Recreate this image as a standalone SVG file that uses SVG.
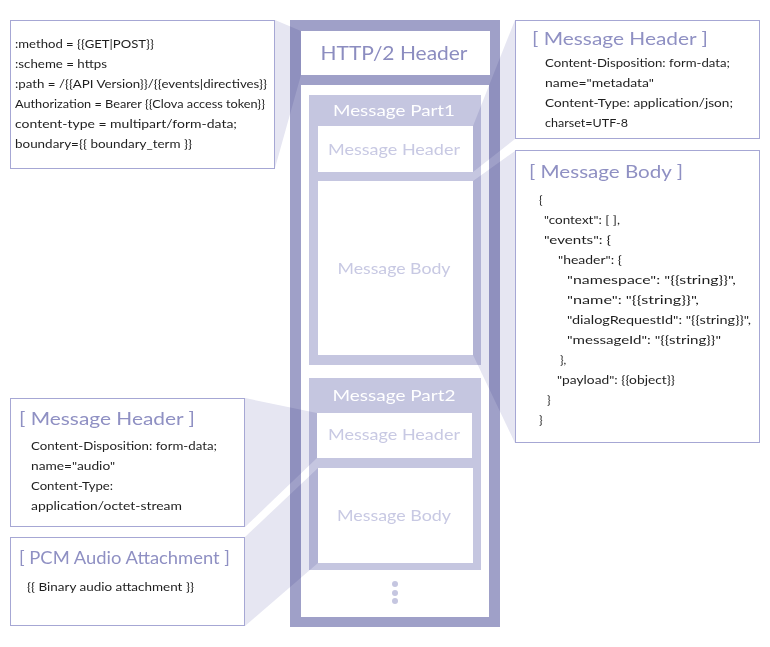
<svg xmlns="http://www.w3.org/2000/svg" width="770" height="647" viewBox="0 0 770 647">
<style>
  .bg{fill:#ffffff}
  .frame{fill:#9fa0c8}
  .part{fill:#c5c6e0}
  .wbox{fill:#ffffff}
  .card{fill:#ffffff;stroke:#a6a7d4;stroke-width:1}
  .wedge{fill:#e6e6f2;mix-blend-mode:multiply}
  text{font-family:"Lato","Liberation Sans",sans-serif}
  .t{font-size:12px;fill:#1e1e1e}
  .ttl{font-size:18px;fill:#8f90c3}
  .hh{font-size:20px;fill:#8c8dc0;text-anchor:middle}
  .pt{font-size:16px;fill:#ffffff;text-anchor:middle}
  .lb{font-size:16px;fill:#c8c9e3;text-anchor:middle}
</style>
<rect class="bg" x="0" y="0" width="770" height="647"/>

<g id="container">
  <rect class="frame" x="290" y="20" width="210" height="607"/>
  <g id="http2-header">
    <rect class="wbox" x="301" y="31" width="189" height="44"/>
    <text class="hh" x="394" y="60" textLength="147" lengthAdjust="spacingAndGlyphs">HTTP/2 Header</text>
  </g>
  <rect class="wbox" x="301" y="85" width="188" height="532"/>
  <g id="message-part1">
    <rect class="part" x="309" y="95" width="172" height="270"/>
    <text class="pt" x="394" y="116" textLength="122" lengthAdjust="spacingAndGlyphs">Message Part1</text>
    <g id="part1-header">
      <rect class="wbox" x="318" y="126" width="155" height="46"/>
      <text class="lb" x="394" y="155" textLength="132" lengthAdjust="spacingAndGlyphs">Message Header</text>
    </g>
    <g id="part1-body">
      <rect class="wbox" x="318" y="181" width="155" height="174"/>
      <text class="lb" x="394" y="274" textLength="113" lengthAdjust="spacingAndGlyphs">Message Body</text>
    </g>
  </g>
  <g id="message-part2">
    <rect class="part" x="309" y="378" width="172" height="192"/>
    <text class="pt" x="394" y="401" textLength="123" lengthAdjust="spacingAndGlyphs">Message Part2</text>
    <g id="part2-header">
      <rect class="wbox" x="317" y="413" width="155" height="45"/>
      <text class="lb" x="394" y="440" textLength="132" lengthAdjust="spacingAndGlyphs">Message Header</text>
    </g>
    <g id="part2-body">
      <rect class="wbox" x="318" y="468" width="155" height="95"/>
      <text class="lb" x="394" y="521" textLength="114" lengthAdjust="spacingAndGlyphs">Message Body</text>
    </g>
  </g>
  <g id="more-dots" fill="#c5c6e0">
    <circle cx="395" cy="584" r="3"/>
    <circle cx="395" cy="593" r="3"/>
    <circle cx="395" cy="601" r="3"/>
  </g>
</g>

<g id="http2-header-detail">
  <rect class="card" x="10.5" y="20.5" width="264" height="148"/>
  <text class="t" x="15" y="48" textLength="139" lengthAdjust="spacingAndGlyphs">:method = {{GET|POST}}</text>
  <text class="t" x="15" y="68" textLength="92" lengthAdjust="spacingAndGlyphs">:scheme = https</text>
  <text class="t" x="15" y="88" textLength="252" lengthAdjust="spacingAndGlyphs">:path = /{{API Version}}/{{events|directives}}</text>
  <text class="t" x="15" y="108" textLength="250" lengthAdjust="spacingAndGlyphs">Authorization = Bearer {{Clova access token}}</text>
  <text class="t" x="15" y="128" textLength="222" lengthAdjust="spacingAndGlyphs">content-type = multipart/form-data;</text>
  <text class="t" x="15" y="148" textLength="177" lengthAdjust="spacingAndGlyphs">boundary={{ boundary_term }}</text>
</g>

<g id="part1-header-detail">
  <rect class="card" x="515.5" y="20.5" width="244" height="118"/>
  <text class="ttl" x="532" y="45" textLength="176" lengthAdjust="spacingAndGlyphs">[ Message Header ]</text>
  <text class="t" x="545" y="67" textLength="185" lengthAdjust="spacingAndGlyphs">Content-Disposition: form-data;</text>
  <text class="t" x="545" y="87" textLength="109" lengthAdjust="spacingAndGlyphs">name="metadata"</text>
  <text class="t" x="545" y="107" textLength="188" lengthAdjust="spacingAndGlyphs">Content-Type: application/json;</text>
  <text class="t" x="545" y="127" textLength="83" lengthAdjust="spacingAndGlyphs">charset=UTF-8</text>
</g>

<g id="part1-body-detail">
  <rect class="card" x="515.5" y="150.5" width="244" height="292"/>
  <text class="ttl" x="529" y="178" textLength="154" lengthAdjust="spacingAndGlyphs">[ Message Body ]</text>
  <text class="t" x="539" y="204">{</text>
  <text class="t" x="544" y="224" textLength="76" lengthAdjust="spacingAndGlyphs">"context": [ ],</text>
  <text class="t" x="544" y="244" textLength="67" lengthAdjust="spacingAndGlyphs">"events": {</text>
  <text class="t" x="558" y="264" textLength="64" lengthAdjust="spacingAndGlyphs">"header": {</text>
  <text class="t" x="567" y="284" textLength="169" lengthAdjust="spacingAndGlyphs">"namespace": "{{string}}",</text>
  <text class="t" x="567" y="304" textLength="132" lengthAdjust="spacingAndGlyphs">"name": "{{string}}",</text>
  <text class="t" x="567" y="324" textLength="184" lengthAdjust="spacingAndGlyphs">"dialogRequestId": "{{string}}",</text>
  <text class="t" x="567" y="344" textLength="154" lengthAdjust="spacingAndGlyphs">"messageId": "{{string}}"</text>
  <text class="t" x="560" y="364">},</text>
  <text class="t" x="557" y="384" textLength="118" lengthAdjust="spacingAndGlyphs">"payload": {{object}}</text>
  <text class="t" x="547" y="404">}</text>
  <text class="t" x="539" y="424">}</text>
</g>

<g id="part2-header-detail">
  <rect class="card" x="10.5" y="398.5" width="234" height="128"/>
  <text class="ttl" x="19" y="425" textLength="176" lengthAdjust="spacingAndGlyphs">[ Message Header ]</text>
  <text class="t" x="31" y="450" textLength="186" lengthAdjust="spacingAndGlyphs">Content-Disposition: form-data;</text>
  <text class="t" x="31" y="470" textLength="84" lengthAdjust="spacingAndGlyphs">name="audio"</text>
  <text class="t" x="31" y="490" textLength="82" lengthAdjust="spacingAndGlyphs">Content-Type:</text>
  <text class="t" x="31" y="510" textLength="151" lengthAdjust="spacingAndGlyphs">application/octet-stream</text>
</g>

<g id="part2-body-detail">
  <rect class="card" x="10.5" y="537.5" width="234" height="88"/>
  <text class="ttl" x="19" y="564" textLength="211" lengthAdjust="spacingAndGlyphs">[ PCM Audio Attachment ]</text>
  <text class="t" x="27" y="591" textLength="167" lengthAdjust="spacingAndGlyphs">{{ Binary audio attachment }}</text>
</g>

<g id="connectors">
  <polygon class="wedge" points="275,20 275,168 301,75 301,31"/>
  <polygon class="wedge" points="515,20 515,139 473,172 473,126"/>
  <polygon class="wedge" points="515,151 515,443 473,355 473,181"/>
  <polygon class="wedge" points="245,398 245,527 317,458 317,413"/>
  <polygon class="wedge" points="245,537 245,626 318,563 318,468"/>
</g>
</svg>
